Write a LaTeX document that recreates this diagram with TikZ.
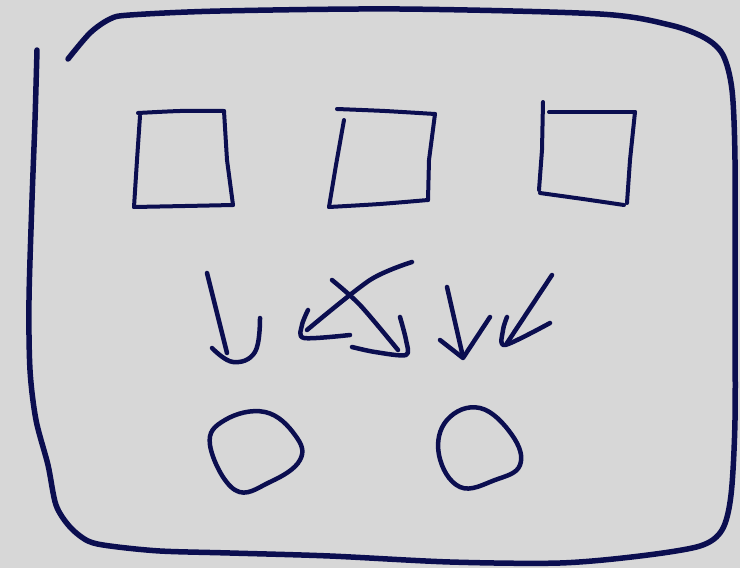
\documentclass[tikz,border=0pt]{standalone}
\definecolor{bg}{HTML}{D7D7D7}
\definecolor{ink}{HTML}{0B0E50}
\tikzset{
  pen/.style={draw=ink,line width=4pt,line cap=round,line join=round},
  thickpen/.style={pen,line width=5.5pt},
}
\begin{document}
\begin{tikzpicture}[x=1pt,y=-1pt]
\fill[bg] (0,0) rectangle (740,568);
\useasboundingbox (0,0) rectangle (740,568);
% outer frame
\draw[thickpen] plot[smooth,tension=0.5] coordinates {(68,59) (90,33) (110,19) (130,15) (220,11) (400,9) (600,14) (670,25) (705,38) (723,55) (732,90) (735,160) (735,300) (735,420) (731,495) (722,530) (700,546) (640,556) (560,563) (450,562) (330,556) (230,553) (160,551) (110,546) (88,541) (70,527) (56,505) (48,465) (36,420) (30,370) (29,300) (32,200) (35,120) (37,50)};
% squares
\draw[pen] plot[smooth,tension=0.4] coordinates {(138,113) (180,111) (224,111)};
\draw[pen] (224,111) -- (227,160) -- (233,205);
\draw[pen] (140,116) -- (137,160) -- (134,207);
\draw[pen] plot[smooth,tension=0.4] coordinates {(134,207) (185,206) (233,205)};
\draw[pen] plot[smooth,tension=0.4] coordinates {(337,109) (385,111) (435,114)};
\draw[pen] (435,114) -- (429,160) -- (428,200);
\draw[pen] (344,120) -- (336,165) -- (329,207);
\draw[pen] plot[smooth,tension=0.4] coordinates {(329,207) (380,204) (428,200)};
\draw[pen] (543,102) -- (542,150) -- (539,190);
\draw[pen] plot[smooth,tension=0.4] coordinates {(549,112) (590,112) (635,112)};
\draw[pen] (635,112) -- (630,160) -- (627,203);
\draw[pen] plot[smooth,tension=0.4] coordinates {(540,193) (583,199) (624,205)};
% circles
\draw[pen,line width=4.5pt] plot[smooth cycle,tension=0.7] coordinates {(235,490) (210,445) (225,420) (265,412) (295,435) (300,460) (270,482)};
\draw[pen,line width=4.5pt] plot[smooth cycle,tension=0.7] coordinates {(460,487) (439,455) (447,420) (480,408) (512,435) (520,465) (495,480)};
% arrow 1 (J)
\draw[pen,line width=4.5pt] (207,273) -- (227,353);
\draw[pen,line width=4.5pt] plot[smooth,tension=0.7] coordinates {(212,348) (233,362) (255,352) (260,318)};
% arrow 2
\draw[pen,line width=4.5pt] plot[smooth,tension=0.5] coordinates {(412,262) (370,280) (307,330)};
\draw[pen,line width=4.5pt] plot[smooth,tension=0.5] coordinates {(308,310) (302,325) (304,338) (350,335)};
% arrow 3
\draw[pen,line width=4.5pt] plot[smooth,tension=0.5] coordinates {(332,280) (360,305) (398,350)};
\draw[pen,line width=4.5pt] plot[smooth,tension=0.5] coordinates {(400,317) (406,340) (406,355) (375,352) (352,347)};
% arrow 4
\draw[pen,line width=4.5pt] (447,287) -- (463,357);
\draw[pen,line width=4.5pt] (440,340) -- (463,358) -- (490,317);
% arrow 5
\draw[pen,line width=4.5pt] (552,275) -- (507,343);
\draw[pen,line width=4.5pt] plot[smooth,tension=0.5] coordinates {(507,317) (503,330) (505,345) (550,323)};
\end{tikzpicture}
\end{document}
